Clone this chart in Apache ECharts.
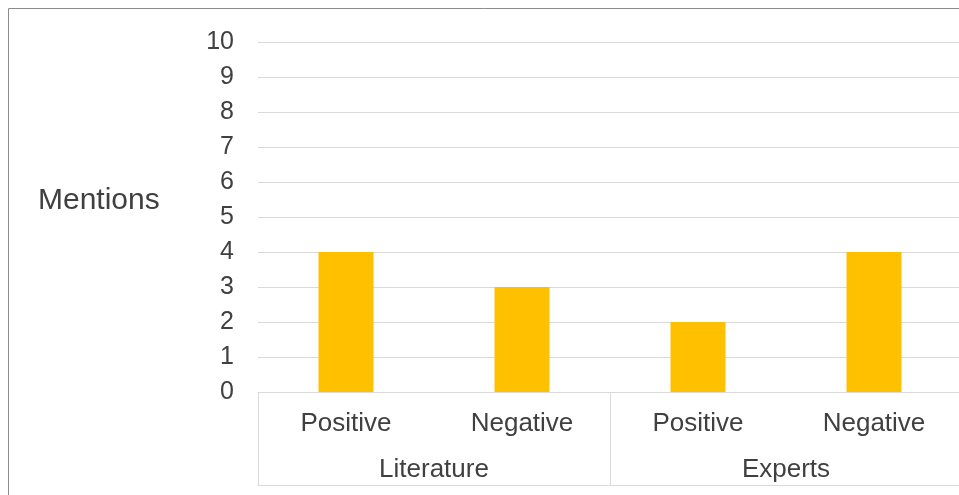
<!DOCTYPE html>
<html>
<head>
<meta charset="utf-8">
<script src="https://cdn.jsdelivr.net/npm/echarts@6/dist/echarts.min.js"></script>
<style>
  html, body { margin: 0; padding: 0; background: #ffffff; }
  #chart { width: 959px; height: 495px; }
</style>
</head>
<body>
<div id="chart"></div>
<script>
// Mentions by sentiment, grouped by source
const sentiments = ['Positive', 'Negative', 'Positive', 'Negative'];
const sources = ['Literature', 'Experts'];
const mentions = [4, 3, 2, 4];
const yTicks = { min: 0, max: 10, step: 1 };

const FONT = '"Liberation Sans", Arial, sans-serif';
const TEXT = '#404040';
const GRID = '#d9d9d9';

const chart = echarts.init(document.getElementById('chart'), null, { renderer: 'canvas' });

chart.setOption({
  animation: false,
  backgroundColor: '#ffffff',
  textStyle: { fontFamily: FONT },
  title: {
    text: 'Mentions',
    left: 33,
    top: 181,
    textStyle: { fontFamily: FONT, fontSize: 30, fontWeight: 'normal', color: TEXT }
  },
  graphic: [{
    type: 'rect',
    shape: { x: 8.5, y: 8.5, width: 1200, height: 1200 },
    style: { fill: 'none', stroke: '#8c8c8c', lineWidth: 1 },
    silent: true
  }],
  // the plot runs a few pixels past the right edge of the canvas
  grid: { left: 258, top: 42, width: 704, height: 350, containLabel: false, outerBoundsMode: 'none' },
  xAxis: [
    {
      type: 'category',
      data: sentiments,
      position: 'bottom',
      axisLine: { show: true, lineStyle: { color: GRID, width: 1 } },
      axisTick: { show: false },
      axisLabel: { margin: 19, fontSize: 26, color: TEXT, fontFamily: FONT, interval: 0 }
    },
    {
      type: 'category',
      data: sources,
      position: 'bottom',
      axisLine: { show: false },
      axisTick: { show: true, length: 93, lineStyle: { color: GRID, width: 1 } },
      axisLabel: { margin: 65, fontSize: 26, color: TEXT, fontFamily: FONT, interval: 0 }
    },
    {
      type: 'category',
      data: sources,
      position: 'bottom',
      offset: 93,
      axisLine: { show: true, lineStyle: { color: GRID, width: 1 } },
      axisTick: { show: false },
      axisLabel: { show: false }
    }
  ],
  yAxis: {
    type: 'value',
    min: yTicks.min,
    max: yTicks.max,
    interval: yTicks.step,
    axisLine: { show: false },
    axisTick: { show: false },
    axisLabel: { margin: 24, fontSize: 25, color: TEXT, fontFamily: FONT },
    splitLine: { show: true, lineStyle: { color: GRID, width: 1 } }
  },
  series: [{
    type: 'bar',
    xAxisIndex: 0,
    data: mentions,
    barWidth: 55,
    itemStyle: { color: '#ffc000' }
  }]
});
</script>
</body>
</html>
